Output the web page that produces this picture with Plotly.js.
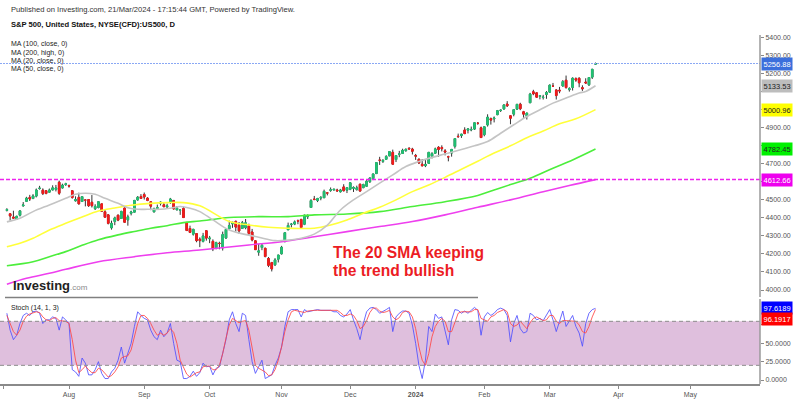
<!DOCTYPE html>
<html><head><meta charset="utf-8">
<script src="https://cdn.plot.ly/plotly-3.0.1.min.js"></script>
<style>html,body{margin:0;padding:0;background:#fff}#c{width:800px;height:399px}</style>
</head><body><div id="c"></div>
<script>
const dates = [
'2023-07-05','2023-07-06','2023-07-07','2023-07-10','2023-07-11','2023-07-12','2023-07-13','2023-07-14','2023-07-17','2023-07-18','2023-07-19','2023-07-20','2023-07-21','2023-07-24','2023-07-25','2023-07-26','2023-07-27','2023-07-28','2023-07-31',
'2023-08-01','2023-08-02','2023-08-03','2023-08-04','2023-08-07','2023-08-08','2023-08-09','2023-08-10','2023-08-11','2023-08-14','2023-08-15','2023-08-16','2023-08-17','2023-08-18','2023-08-21','2023-08-22','2023-08-23','2023-08-24','2023-08-25','2023-08-28','2023-08-29','2023-08-30','2023-08-31',
'2023-09-01','2023-09-05','2023-09-06','2023-09-07','2023-09-08','2023-09-11','2023-09-12','2023-09-13','2023-09-14','2023-09-15','2023-09-18','2023-09-19','2023-09-20','2023-09-21','2023-09-22','2023-09-25','2023-09-26','2023-09-27','2023-09-28','2023-09-29',
'2023-10-02','2023-10-03','2023-10-04','2023-10-05','2023-10-06','2023-10-09','2023-10-10','2023-10-11','2023-10-12','2023-10-13','2023-10-16','2023-10-17','2023-10-18','2023-10-19','2023-10-20','2023-10-23','2023-10-24','2023-10-25','2023-10-26','2023-10-27','2023-10-30','2023-10-31',
'2023-11-01','2023-11-02','2023-11-03','2023-11-06','2023-11-07','2023-11-08','2023-11-09','2023-11-10','2023-11-13','2023-11-14','2023-11-15','2023-11-16','2023-11-17','2023-11-20','2023-11-21','2023-11-22','2023-11-24','2023-11-27','2023-11-28','2023-11-29','2023-11-30',
'2023-12-01','2023-12-04','2023-12-05','2023-12-06','2023-12-07','2023-12-08','2023-12-11','2023-12-12','2023-12-13','2023-12-14','2023-12-15','2023-12-18','2023-12-19','2023-12-20','2023-12-21','2023-12-22','2023-12-26','2023-12-27','2023-12-28','2023-12-29',
'2024-01-02','2024-01-03','2024-01-04','2024-01-05','2024-01-08','2024-01-09','2024-01-10','2024-01-11','2024-01-12','2024-01-16','2024-01-17','2024-01-18','2024-01-19','2024-01-22','2024-01-23','2024-01-24','2024-01-25','2024-01-26','2024-01-29','2024-01-30','2024-01-31',
'2024-02-01','2024-02-02','2024-02-05','2024-02-06','2024-02-07','2024-02-08','2024-02-09','2024-02-12','2024-02-13','2024-02-14','2024-02-15','2024-02-16','2024-02-20','2024-02-21','2024-02-22','2024-02-23','2024-02-26','2024-02-27','2024-02-28','2024-02-29',
'2024-03-01','2024-03-04','2024-03-05','2024-03-06','2024-03-07','2024-03-08','2024-03-11','2024-03-12','2024-03-13','2024-03-14','2024-03-15','2024-03-18','2024-03-19','2024-03-20','2024-03-21'];

const open = [4442,4423,4405,4394,4415,4467,4492,4514,4508,4521,4563,4554,4551,4543,4555,4558,4598,4566,4585,
4579,4551,4495,4514,4491,4499,4502,4487,4451,4458,4478,4434,4417,4345,4380,4415,4397,4455,4389,4426,4432,4500,4518,
4530,4510,4490,4434,4452,4481,4473,4462,4487,4497,4445,4443,4452,4375,4341,4310,4313,4282,4270,4329,
4284,4270,4234,4259,4234,4289,4339,4367,4381,4360,4342,4346,4357,4322,4273,4210,4236,4232,4175,4152,4140,4171,
4201,4268,4334,4364,4366,4384,4392,4365,4407,4458,4505,4497,4510,4512,4539,4553,4555,4555,4545,4572,4554,
4559,4564,4557,4587,4568,4576,4601,4618,4646,4721,4714,4725,4744,4764,4724,4753,4758,4773,4786,4782,
4746,4726,4698,4690,4703,4742,4759,4792,4791,4772,4739,4760,4797,4853,4857,4888,4887,4888,4893,4925,4900,
4862,4916,4951,4950,4973,4996,5005,5032,4967,4976,5004,5031,4989,4963,5039,5100,5094,5075,5068,5085,
5098,5131,5110,5109,5132,5164,5112,5124,5173,5175,5123,5154,5139,5181,5253];
const high = [4454,4423,4440,4412,4443,4488,4517,4528,4532,4563,4578,4564,4555,4563,4581,4583,4607,4590,4595,
4585,4552,4520,4540,4520,4504,4502,4527,4476,4491,4478,4449,4421,4385,4407,4419,4440,4458,4418,4440,4500,4521,4532,
4541,4515,4490,4457,4474,4491,4488,4479,4511,4497,4466,4449,4462,4376,4357,4338,4313,4292,4317,4333,
4300,4281,4268,4268,4324,4341,4385,4378,4385,4377,4383,4394,4368,4339,4276,4255,4255,4232,4183,4156,4177,4195,
4245,4319,4374,4372,4386,4391,4393,4418,4420,4504,4522,4511,4520,4557,4542,4569,4560,4562,4561,4587,4570,
4599,4575,4579,4590,4590,4610,4623,4645,4709,4739,4726,4748,4769,4779,4748,4772,4784,4785,4793,4789,
4755,4729,4727,4722,4765,4765,4790,4798,4803,4782,4745,4783,4843,4868,4866,4903,4898,4907,4929,4932,4907,
4907,4975,4957,4963,4999,5000,5030,5048,4971,5003,5033,5039,4994,4983,5094,5111,5097,5081,5083,5104,
5140,5149,5114,5127,5165,5190,5125,5180,5180,5180,5136,5175,5180,5226,5262];
const low = [4436,4385,4397,4389,4408,4463,4490,4494,4504,4514,4557,4527,4531,4541,4554,4547,4528,4564,4578,
4568,4507,4491,4475,4491,4464,4461,4458,4444,4453,4433,4403,4364,4335,4360,4382,4397,4375,4357,4414,4432,4496,4507,
4502,4493,4443,4430,4448,4469,4461,4453,4478,4447,4442,4417,4402,4329,4316,4302,4265,4238,4264,4274,
4260,4216,4226,4226,4219,4283,4339,4345,4325,4312,4341,4337,4304,4270,4223,4190,4221,4181,4127,4103,4133,4153,
4197,4268,4334,4347,4360,4365,4343,4360,4394,4458,4499,4488,4498,4511,4525,4545,4553,4546,4541,4547,4538,
4554,4544,4552,4546,4565,4574,4594,4610,4644,4694,4705,4725,4744,4697,4710,4737,4758,4768,4780,4752,
4722,4699,4687,4682,4700,4730,4756,4739,4769,4747,4714,4740,4785,4845,4844,4865,4869,4881,4888,4917,4845,
4853,4907,4918,4930,4970,4988,5000,5016,4920,4964,4999,4998,4955,4946,5038,5081,5068,5058,5057,5061,
5094,5127,5057,5092,5129,5117,5101,5107,5155,5125,5105,5145,5132,5171,5250];
const close = [4446,4411,4399,4409,4439,4472,4510,4505,4522,4555,4565,4535,4536,4555,4567,4566,4537,4582,4589,
4577,4513,4502,4478,4518,4499,4468,4468,4464,4490,4437,4404,4370,4370,4400,4388,4436,4376,4406,4433,4497,4515,4508,
4516,4497,4465,4451,4458,4487,4462,4467,4505,4450,4454,4444,4402,4330,4320,4337,4274,4274,4300,4288,
4288,4229,4263,4258,4308,4336,4358,4376,4349,4328,4373,4373,4314,4278,4224,4217,4248,4186,4137,4117,4167,4194,
4237,4318,4358,4365,4378,4383,4347,4415,4411,4496,4502,4508,4514,4547,4538,4556,4559,4550,4555,4551,4568,
4595,4569,4567,4549,4585,4604,4622,4644,4707,4720,4719,4741,4768,4698,4746,4755,4775,4781,4783,4770,
4743,4705,4689,4697,4764,4757,4783,4780,4784,4766,4739,4780,4840,4851,4865,4868,4894,4891,4928,4925,4846,
4906,4959,4943,4954,4995,4998,5027,5022,4953,5001,5030,5006,4976,4982,5087,5089,5070,5078,5070,5096,
5137,5131,5079,5105,5157,5124,5117,5175,5165,5150,5117,5149,5179,5225,5256.88];

const stochK = [91,68,55,61,77,88,91,88,93,94,91,77,82,82,86,84,68,86,82,77,
14,11,5,30,23,7,7,14,25,9,2,2,11,16,27,45,23,36,50,73,
93,88,84,82,68,59,55,68,59,64,77,50,27,25,2,2,5,12,5,10,
23,18,19,7,16,18,36,55,82,93,77,66,91,88,55,25,9,18,27,2,
4,7,20,30,45,73,93,96,96,96,86,96,93,94,94,96,95,95,96,95,
93,93,88,86,90,96,82,70,55,77,93,98,99,96,91,93,96,99,66,86,
91,94,94,91,75,50,20,2,27,73,66,90,84,86,68,48,82,96,95,91,
94,91,95,99,95,61,86,92,88,91,96,98,96,88,52,77,88,70,64,66,
91,88,82,84,81,88,96,82,66,80,94,73,80,88,73,64,46,77,91,96,97.6189];
const stochD = [88,77,66,61,68,80,87,90,92,93,92,86,82,81,84,85,81,81,80,77,
55,27,10,14,19,14,10,10,16,14,9,4,6,11,18,30,32,33,41,59,
77,88,88,84,77,68,61,64,61,64,70,65,50,27,18,8,4,7,10,11,
18,19,19,14,14,20,36,57,75,84,81,78,80,81,68,41,20,16,14,11,
6,7,14,27,45,66,82,93,95,94,93,92,94,95,95,95,95,95,95,95,
95,95,92,88,88,90,88,81,70,73,81,92,98,98,94,92,93,95,86,82,
85,92,94,93,86,70,45,27,20,36,59,73,80,84,80,66,66,80,91,93,
93,92,93,96,96,84,82,80,86,88,92,94,96,93,77,73,75,80,75,70,
78,84,86,84,81,82,88,88,80,77,81,81,81,80,80,75,66,64,73,86,96.1917];

const ma20Dates = ['2023-07-05','2023-07-11','2023-07-17','2023-07-24','2023-07-31','2023-08-03','2023-08-08','2023-08-11','2023-08-16','2023-08-22','2023-08-25','2023-08-30','2023-09-05','2023-09-11','2023-09-14','2023-09-19','2023-09-22','2023-09-27','2023-10-03','2023-10-10','2023-10-23','2023-10-30','2023-11-03','2023-11-09','2023-11-15','2023-11-21','2023-11-28','2023-12-04','2023-12-08','2023-12-14','2023-12-20','2023-12-27','2024-01-03','2024-01-09','2024-01-16','2024-01-23','2024-01-29','2024-02-02','2024-02-08','2024-02-14','2024-02-21','2024-02-27','2024-03-04','2024-03-08','2024-03-14','2024-03-18','2024-03-21'];
const ma20 = [4378,4398,4435,4472,4509,4531,4537,4531,4509,4481,4457,4448,4448,4448,4454,4463,4454,4435,4389,4333,4293,4274,4277,4287,4310,4360,4444,4500,4546,4593,4639,4685,4713,4736,4755,4780,4800,4824,4870,4917,4963,5000,5037,5065,5093,5102,5133.53];

const ma50Dates = ['2023-07-05','2023-07-11','2023-07-17','2023-07-24','2023-07-31','2023-08-07','2023-08-14','2023-08-21','2023-08-28','2023-09-06','2023-09-13','2023-09-20','2023-09-27','2023-10-10','2023-10-18','2023-10-26','2023-11-03','2023-11-15','2023-11-22','2023-11-30','2023-12-07','2023-12-14','2023-12-21','2023-12-29','2024-01-08','2024-01-16','2024-01-23','2024-01-30','2024-02-06','2024-02-13','2024-02-21','2024-02-28','2024-03-06','2024-03-13','2024-03-21'];
const ma50 = [4240,4259,4287,4333,4370,4405,4438,4455,4470,4481,4485,4485,4467,4380,4361,4348,4343,4343,4361,4389,4426,4459,4500,4546,4583,4625,4670,4715,4760,4800,4845,4882,4922,4950,5000.96];

const ma100Dates = ['2023-07-05','2023-07-17','2023-07-24','2023-07-31','2023-08-07','2023-08-14','2023-08-22','2023-08-29','2023-09-06','2023-09-13','2023-09-20','2023-09-27','2023-10-10','2023-10-23','2023-11-03','2023-11-15','2023-11-30','2023-12-14','2023-12-29','2024-01-16','2024-01-30','2024-02-06','2024-02-13','2024-02-22','2024-03-04','2024-03-12','2024-03-21'];
const ma100 = [4135,4157,4185,4213,4248,4279,4306,4325,4343,4357,4374,4383,4402,4407,4407,4417,4422,4435,4463,4490,4525,4555,4585,4620,4676,4722,4782.45];

const ma200Dates = ['2023-07-05','2023-07-13','2023-07-24','2023-07-31','2023-08-14','2023-08-29','2023-09-13','2023-09-27','2023-10-18','2023-11-01','2023-11-15','2023-11-30','2023-12-14','2023-12-29','2024-01-16','2024-01-30','2024-02-13','2024-02-28','2024-03-11','2024-03-21'];
const ma200 = [4032,4065,4093,4115,4157,4185,4207,4222,4250,4268,4296,4324,4352,4380,4417,4459,4500,4545,4580,4612.66];

// price ticks; labels hidden behind the value boxes in the reference are left blank
const priceTicks = [4000,4100,4200,4300,4400,4500,4600,4700,4800,4900,5000,5100,5200,5300,5400];
const priceTickText = ['4000.00','4100.00','4200.00','4300.00','4400.00','4500.00','','4700.00','','4900.00','','','5200.00','5300.00','5400.00'];
const stochTicks = [0,25,50,75];
const stochTickText = ['0.0000','25.0000','50.0000',''];
const monthTickDates = ['2023-07-03','2023-08-01','2023-09-01','2023-10-02','2023-11-01','2023-12-01','2024-01-02','2024-02-01','2024-03-01','2024-04-01','2024-05-01'];
const monthTickText = ['Jul','Aug','Sep','Oct','Nov','Dec','<b>2024</b>','Feb','Mar','Apr','May'];
const holidays = ['2023-07-04','2023-09-04','2023-11-23','2023-12-25','2024-01-01','2024-01-15','2024-02-19'];

// ---------- layout helpers ----------
const PH = 384, PW = 760;
const py = v => (PH - v) / PH;
const px = v => v / PW;
const FONT = 'Liberation Sans, Arial, sans-serif';
const UP = '#21c273', DN = '#f21b1b';

const bodyHigh = open.map((o,i)=>Math.max(o, close[i]));
const bodyLow = open.map((o,i)=>Math.min(o, close[i]));

const traces = [
  {type:'scatter', mode:'lines', x:ma200Dates, y:ma200, line:{color:'#ee3fee', width:1.6, shape:'spline'}, hoverinfo:'skip'},
  {type:'scatter', mode:'lines', x:ma100Dates, y:ma100, line:{color:'#4cee3c', width:1.6, shape:'spline'}, hoverinfo:'skip'},
  {type:'scatter', mode:'lines', x:ma50Dates, y:ma50, line:{color:'#ffff3a', width:1.6, shape:'spline'}, hoverinfo:'skip'},
  {type:'scatter', mode:'lines', x:ma20Dates, y:ma20, line:{color:'#c4c4c4', width:1.6, shape:'spline'}, hoverinfo:'skip'},
  {type:'candlestick', x:dates, open:open, high:high, low:low, close:close, whiskerwidth:0,
   increasing:{line:{color:'#333', width:1}, fillcolor:UP},
   decreasing:{line:{color:'#333', width:1}, fillcolor:DN}, hoverinfo:'skip'},
  {type:'candlestick', x:dates, open:open, high:bodyHigh, low:bodyLow, close:close, whiskerwidth:0,
   increasing:{line:{color:UP, width:1}, fillcolor:UP},
   decreasing:{line:{color:DN, width:1}, fillcolor:DN}, hoverinfo:'skip'},
  {type:'scatter', mode:'lines', x:dates, y:stochK, xaxis:'x', yaxis:'y2', line:{color:'rgba(80,80,255,0.85)', width:1}, hoverinfo:'skip'},
  {type:'scatter', mode:'lines', x:dates, y:stochD, xaxis:'x', yaxis:'y2', line:{color:'rgba(255,70,70,0.85)', width:1}, hoverinfo:'skip'}
];

const lastClose = close[close.length-1];
const last200 = ma200[ma200.length-1];

function box(yref, val, bg, fg, shift){
  return {xref:'paper', x:1, xanchor:'left', xshift:1, yref:yref, y:val, yanchor:'middle', yshift:shift||0,
    text:(yref==='y2'? val.toFixed(4) : val.toFixed(2)), showarrow:false, bgcolor:bg, borderpad:1.5,
    font:{family:FONT, size:7.5, color:fg}};
}
function txt(x, y, t, size, color, extra){
  return Object.assign({xref:'paper', yref:'paper', x:px(x), y:py(y), xanchor:'left', yanchor:'middle',
    text:t, showarrow:false, font:{family:FONT, size:size, color:color}}, extra||{});
}

const layout = {
  width:800, height:399, margin:{l:0, r:40, t:0, b:15},
  paper_bgcolor:'#fff', plot_bgcolor:'#fff', showlegend:false,
  xaxis:{type:'date', anchor:'y2', range:['2023-06-29 21:36','2024-05-30 07:12'],
    rangebreaks:[{bounds:['sat','mon']},{values:holidays}],
    rangeslider:{visible:false}, showgrid:false, zeroline:false,
    showline:true, linecolor:'#8a8a8a', linewidth:1.5,
    ticks:'outside', ticklen:3, tickcolor:'#8a8a8a',
    tickvals:monthTickDates, ticktext:monthTickText,
    tickfont:{family:FONT, size:7, color:'#555'}},
  yaxis:{domain:[(PH-297)/PH, 1], range:[3961.2, 5609.3], side:'right', anchor:'x',
    showgrid:false, zeroline:false, showline:false,
    ticks:'outside', ticklen:3, tickcolor:'#8a8a8a',
    tickvals:priceTicks, ticktext:priceTickText,
    tickfont:{family:FONT, size:7, color:'#555'}},
  yaxis2:{domain:[0, (PH-298)/PH], range:[-5.45, 111.8], side:'right', anchor:'x',
    showgrid:false, zeroline:false, showline:false,
    ticks:'outside', ticklen:3, tickcolor:'#8a8a8a',
    tickvals:stochTicks, ticktext:stochTickText,
    tickfont:{family:FONT, size:7, color:'#555'}},
  shapes:[
    {type:'rect', xref:'paper', x0:0, x1:1, yref:'y2', y0:20, y1:80, fillcolor:'#dfbfdd', line:{width:0}, layer:'below'},
    {type:'line', xref:'paper', x0:0, x1:1, yref:'y2', y0:80, y1:80, line:{color:'#8c8c8c', width:1, dash:'4px,3px'}},
    {type:'line', xref:'paper', x0:0, x1:1, yref:'y2', y0:20, y1:20, line:{color:'#8c8c8c', width:1, dash:'4px,3px'}},
    {type:'line', xref:'paper', x0:0, x1:1, yref:'y', y0:lastClose, y1:lastClose, line:{color:'#8aa8f4', width:1.2, dash:'2px,1px'}},
    {type:'line', xref:'paper', x0:0, x1:1, yref:'y', y0:last200, y1:last200, line:{color:'#ee22ee', width:1.5, dash:'4px,2px'}},
    {type:'line', xref:'paper', x0:1, x1:1, yref:'paper', y0:py(35), y1:py(297), line:{color:'#9a9a9a', width:1.5}},
    {type:'line', xref:'paper', x0:1, x1:1, yref:'paper', y0:py(299), y1:py(384), line:{color:'#9a9a9a', width:1.5}},
    {type:'line', xref:'paper', x0:px(5), x1:px(478), yref:'paper', y0:py(297.5), y1:py(297.5), line:{color:'#808080', width:1.5}}
  ],
  annotations:[
    txt(9, 10, 'Published on Investing.com, 21/Mar/2024 - 17:15:44 GMT, Powered by TradingView.', 7.6, '#333'),
    txt(9, 25, '<b>S&amp;P 500, United States, NYSE(CFD):US500, D</b>', 7.6, '#111'),
    txt(9, 44.5, 'MA (100, close, 0)', 7, '#222'),
    txt(9, 52.8, 'MA (200, high, 0)', 7, '#222'),
    txt(9, 61.1, 'MA (20, close, 0)', 7, '#222'),
    txt(9, 69.4, 'MA (50, close, 0)', 7, '#222'),
    txt(9, 308, 'Stoch (14, 1, 3)', 7, '#222'),
    txt(11, 285, '<b>Investing</b><span style="font-size:8px;color:#8a8a8a">.com</span>', 13, '#222'),
    txt(331, 252, '<b>The 20 SMA keeping</b>', 15.6, '#ec1c24'),
    txt(331, 270, '<b>the trend bullish</b>', 15.6, '#ec1c24'),
    box('y', lastClose, '#3b6fdc', '#fff'),
    box('y', ma20[ma20.length-1], '#bdbdbd', '#222'),
    box('y', ma50[ma50.length-1], '#ffff00', '#222'),
    box('y', ma100[ma100.length-1], '#00f000', '#222'),
    box('y', last200, '#ee00ee', '#fff'),
    box('y2', stochK[stochK.length-1], '#0000ff', '#fff'),
    box('y2', stochD[stochD.length-1], '#ff0000', '#fff', -10)
  ]
};

Plotly.newPlot('c', traces, layout, {displayModeBar:false, staticPlot:true});
</script></body></html>
